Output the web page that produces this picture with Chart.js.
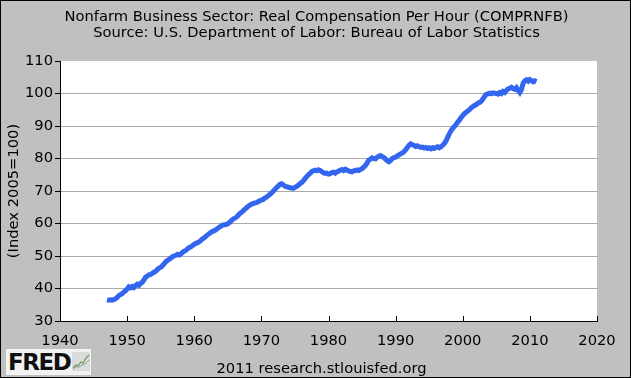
<!DOCTYPE html>
<html>
<head>
<meta charset="utf-8">
<script src="https://cdn.jsdelivr.net/npm/chart.js@4/dist/chart.umd.min.js"></script>
<style>
  html, body { margin: 0; padding: 0; }
  #frame {
    position: relative; width: 631px; height: 378px; box-sizing: border-box;
    border: 1px solid #000; background: #c0c0c0; overflow: hidden;
    font-family: "DejaVu Sans", sans-serif; color: #000;
  }
  #chart { position: absolute; left: -1px; top: -1px; }
  .title { position: absolute; left: 0; width: 631px; text-align: center; font-size: 14.7px; white-space: nowrap; }
  #t1 { top: 6px; }
  #t2 { top: 22px; }
  #footer { position: absolute; left: 0; width: 641px; top: 358px; text-align: center; font-size: 14.7px; }
  #logo {
    position: absolute; left: 5px; top: 348px; width: 85px; height: 26px;
    background: #f2f2f2;
  }
  #logo span {
    position: absolute; left: 2px; top: 0px; font: 900 23px "DejaVu Sans", sans-serif;
    letter-spacing: -1.5px; color: #111;
  }
  #logo svg { position: absolute; left: 66px; top: 3px; }
</style>
</head>
<body>
<div id="frame">
  <canvas id="chart" width="631" height="378"></canvas>
  <div class="title" id="t1">Nonfarm Business Sector: Real Compensation Per Hour (COMPRNFB)</div>
  <div class="title" id="t2">Source: U.S. Department of Labor: Bureau of Labor Statistics</div>
  <div id="logo"><span>FRED</span>
    <svg width="18" height="19" viewBox="0 0 18 19">
      <rect x="0" y="0" width="18" height="19" fill="#dcdcdc"/>
      <polyline points="1,16 4,13 6,14 9,10 11,11 14,6 17,3" fill="none" stroke="#6a9a5a" stroke-width="1.2"/>
      <polyline points="1,17 4,15 7,15 10,13 13,12 17,8" fill="none" stroke="#9a9a9a" stroke-width="1"/>
    </svg>
  </div>
  <div id="footer">2011 research.stlouisfed.org</div>
</div>
<script>
// quarterly values, index 2005=100, starting 1947 Q1
const firstYear = 1947;
const q1940s = [36.5, 36.4, 36.5, 36.4, 36.6, 36.8, 37.2, 37.8, 38.1, 38.4, 38.9, 39.3];
const q1950s = [
  39.8, 40.5, 40.2, 40.6, 40.3, 40.9, 41.3, 41.0, 41.6, 41.9, 42.6, 43.5,
  43.8, 44.2, 44.3, 44.7, 45.0, 45.3, 45.8, 46.3, 46.5, 47.0, 47.6, 48.2,
  48.6, 49.0, 49.3, 49.8, 50.0, 50.2, 50.5, 50.3, 50.6, 51.1, 51.5, 51.7,
  52.2, 52.6, 52.8, 53.2
];
const q1960s = [
  53.6, 53.9, 54.1, 54.4, 54.8, 55.3, 55.6, 56.1, 56.5, 56.9, 57.3, 57.6,
  57.8, 58.1, 58.5, 58.9, 59.2, 59.5, 59.6, 59.7, 59.9, 60.3, 60.8, 61.3,
  61.6, 61.9, 62.4, 63.0, 63.4, 63.8, 64.3, 64.8, 65.2, 65.6, 65.9, 66.1,
  66.3, 66.4, 66.7, 67.0
];
const q1970s = [
  67.2, 67.4, 67.8, 68.1, 68.5, 68.9, 69.4, 69.9, 70.5, 71.0, 71.5, 72.0,
  72.2, 71.9, 71.5, 71.3, 71.2, 71.0, 70.9, 70.8, 71.1, 71.4, 71.8, 72.2,
  72.6, 73.1, 73.8, 74.4, 75.0, 75.4, 76.0, 76.2, 76.4, 76.2, 76.5, 76.3,
  76.0, 75.6, 75.4, 75.5
];
const q1980s = [
  75.2, 75.3, 75.7, 75.8, 75.5, 75.9, 76.1, 76.4, 76.6, 76.3, 76.7, 76.4,
  76.2, 76.0, 75.9, 76.2, 76.3, 76.5, 76.3, 76.6, 76.9, 77.3, 77.9, 78.6,
  79.5, 79.8, 80.2, 80.0, 79.9, 80.4, 80.7, 80.9, 80.6, 80.3, 79.8, 79.3,
  79.0, 79.4, 80.0, 80.3
];
const q1990s = [
  80.4, 80.8, 81.1, 81.4, 81.7, 82.1, 82.7, 83.4, 84.1, 84.5, 84.2, 84.0,
  83.7, 83.9, 83.6, 83.4, 83.5, 83.2, 83.4, 83.1, 83.3, 83.0, 83.3, 83.1,
  83.4, 83.6, 83.3, 83.6, 84.1, 84.6, 85.4, 86.5, 87.6, 88.5, 89.3, 89.8,
  90.5, 91.2, 91.8, 92.6
];
const q2000s = [
  93.2, 93.8, 94.2, 94.6, 95.0, 95.6, 96.0, 96.3, 96.6, 97.0, 97.2, 97.6,
  98.3, 99.1, 99.7, 99.9, 100.1, 99.9, 100.2, 100.1, 100.0, 99.8, 100.3, 100.0,
  100.6, 100.3, 100.9, 101.4, 101.6, 101.9, 101.5, 101.3, 101.8, 101.0, 100.3, 101.2,
  103.2, 103.9, 104.2, 103.8
];
const q2010s = [104.3, 104.0, 103.6, 103.9, 103.7];

const xTickYears = [1940, 1950, 1960, 1970, 1980, 1990, 2000, 2010, 2020];
const yTickValues = [30, 40, 50, 60, 70, 80, 90, 100, 110];

const values = [].concat(q1940s, q1950s, q1960s, q1970s, q1980s, q1990s, q2000s, q2010s);
const points = values.map((v, i) => ({ x: firstYear + i / 4, y: v }));

// white plot area + small inward x ticks
const plotDecor = {
  id: 'plotDecor',
  beforeDraw(chart) {
    const a = chart.chartArea, c = chart.ctx;
    c.save();
    c.fillStyle = '#ffffff';
    c.fillRect(a.left, a.top, a.right - a.left, a.bottom - a.top);
    c.restore();
  },
  afterDraw(chart) {
    const a = chart.chartArea, c = chart.ctx, xs = chart.scales.x;
    c.save();
    c.strokeStyle = '#000';
    c.lineWidth = 1;
    xTickYears.forEach(yr => {
      const px = Math.round(xs.getPixelForValue(yr)) + 0.5;
      c.beginPath();
      c.moveTo(px, a.bottom);
      c.lineTo(px, a.bottom - 5);
      c.stroke();
    });
    c.restore();
  }
};

const font = { family: 'DejaVu Sans', size: 14.7 };

new Chart(document.getElementById('chart'), {
  type: 'line',
  data: {
    datasets: [{
      data: points,
      borderColor: '#3366ee',
      borderWidth: 5,
      pointRadius: 0,
      tension: 0,
      fill: false
    }]
  },
  options: {
    responsive: false,
    animation: false,
    layout: { padding: { left: 0, top: 61, right: 34, bottom: 27 } },
    plugins: { legend: { display: false }, tooltip: { enabled: false } },
    scales: {
      x: {
        type: 'linear', min: 1940, max: 2020,
        afterBuildTicks: s => { s.ticks = xTickYears.map(v => ({ value: v })); },
        afterFit: s => { s.height = 30; },
        ticks: { color: '#000', font: font, padding: 0, maxRotation: 0, callback: v => String(v) },
        grid: { display: true, drawOnChartArea: false, drawTicks: true, tickLength: 11, tickColor: 'rgba(0,0,0,0)' },
        border: { display: true, color: '#000', width: 1 }
      },
      y: {
        min: 30, max: 110,
        afterBuildTicks: s => { s.ticks = yTickValues.map(v => ({ value: v })); },
        afterFit: s => { s.width = 60; },
        ticks: { color: '#000', font: font, padding: 2 },
        grid: {
          color: c => (c.tick && c.tick.value === 110) ? 'rgba(0,0,0,0)' : '#aaaaaa',
          tickColor: '#000', tickLength: 5
        },
        border: { display: true, color: '#000', width: 1 },
        title: { display: true, text: '(Index 2005=100)', color: '#000', font: font, padding: { top: 5, bottom: 0 } }
      }
    }
  },
  plugins: [plotDecor]
});
</script>
</body>
</html>
